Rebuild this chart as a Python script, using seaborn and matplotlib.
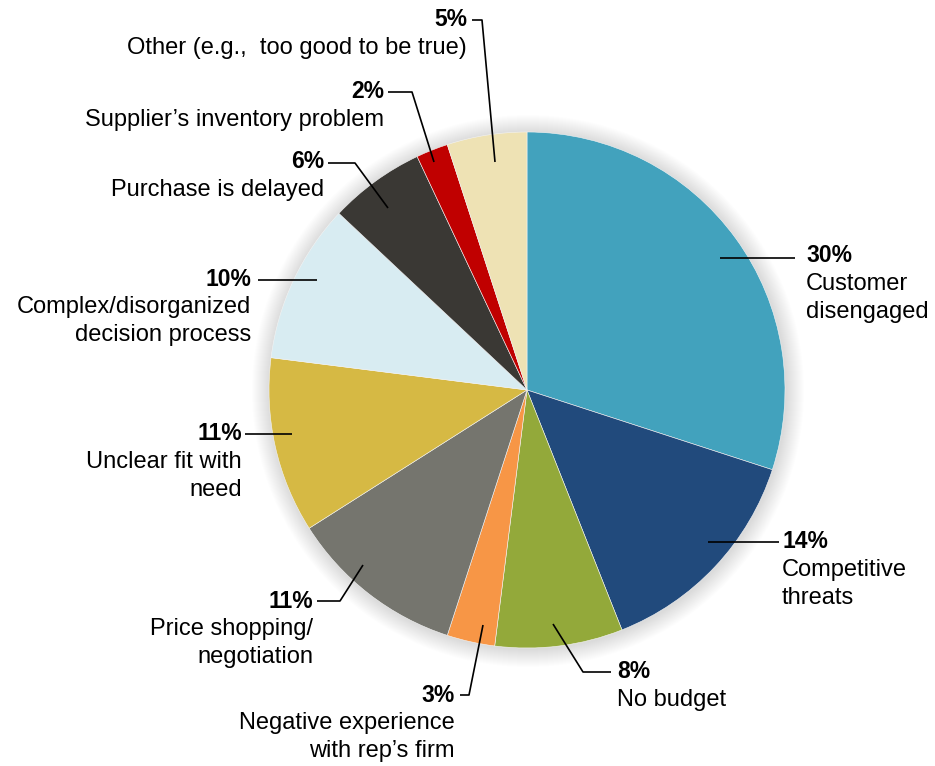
import matplotlib
matplotlib.use("Agg")
import matplotlib.pyplot as plt
import seaborn as sns
import pandas as pd
import numpy as np
from matplotlib.patches import Circle

# Reasons deals are lost (share of responses, %)
reasons = [
    "Customer\ndisengaged",
    "Competitive\nthreats",
    "No budget",
    "Negative experience\nwith rep\u2019s firm",
    "Price shopping/\nnegotiation",
    "Unclear fit with\nneed",
    "Complex/disorganized\ndecision process",
    "Purchase is delayed",
    "Supplier\u2019s inventory problem",
    "Other (e.g.,  too good to be true)",
]
shares = [30, 14, 8, 3, 11, 11, 10, 6, 2, 5]
colors = ["#42A2BD", "#214A7C", "#93A93A", "#F79646", "#75756E",
          "#D6B944", "#D8ECF2", "#3A3834", "#C00000", "#EEE2B4"]

df = pd.DataFrame({"reason": reasons, "share": shares})

sns.set_theme(style="white")
plt.rcParams["font.family"] = ["Liberation Sans", "DejaVu Sans"]

W, H = 935, 766
fig = plt.figure(figsize=(W / 100, H / 100), dpi=100)
ax = fig.add_axes([0, 0, 1, 1])

cx, cy_img, R = 527, 390, 258
cy = H - cy_img

# soft shadow around the pie
for i in range(18, 0, -1):
    ax.add_patch(Circle((cx + 1, cy - 1), R + i, color="#000000",
                        alpha=0.009, lw=0, zorder=1))

ax.pie(df["share"], colors=colors, startangle=90, counterclock=False,
       center=(cx, cy), radius=R, frame=True,
       wedgeprops=dict(linewidth=0.4, edgecolor="#f4f4f4"))
ax.set_xlim(0, W)
ax.set_ylim(0, H)
ax.set_aspect("equal")
ax.axis("off")

# leader line paths (image pixel coords) and label anchors
layout = [
    # path, text x, pct y, align
    ([(720, 258), (795, 258)], 806, 256, "left"),
    ([(708, 542), (779, 542)], 782, 542, "left"),
    ([(553, 624), (583, 672), (611, 672)], 617, 672, "left"),
    ([(483, 625), (469, 695), (460, 695)], 455, 695, "right"),
    ([(363, 565), (340, 601), (317, 601)], 313, 601, "right"),
    ([(292, 434), (245, 434)], 242, 434, "right"),
    ([(317, 280), (258, 280)], 251, 279, "right"),
    ([(388, 208), (355, 163), (328, 163)], 324, 162, "right"),
    ([(434, 162), (412, 92), (388, 92)], 384, 92, "right"),
    ([(495, 162), (482, 20), (472, 20)], 467, 20, "right"),
]

fs = 17
fs_pct = 16.5
lh = 28
for (path, tx, ty, ha), reason, val in zip(layout, df["reason"], df["share"]):
    xs = [p[0] for p in path]
    ys = [H - p[1] for p in path]
    ax.plot(xs, ys, color="black", lw=1.2, zorder=5, solid_capstyle="butt")
    ax.text(tx, H - ty, f"{val}%", ha=ha, va="center", fontsize=fs_pct,
            fontweight="bold", color="black", zorder=6)
    for k, line in enumerate(reason.split("\n"), start=1):
        ax.text(tx, H - (ty + lh * k), line, ha=ha, va="center",
                fontsize=fs, color="black", zorder=6)

fig.savefig("out.png", dpi=100, facecolor="white")
